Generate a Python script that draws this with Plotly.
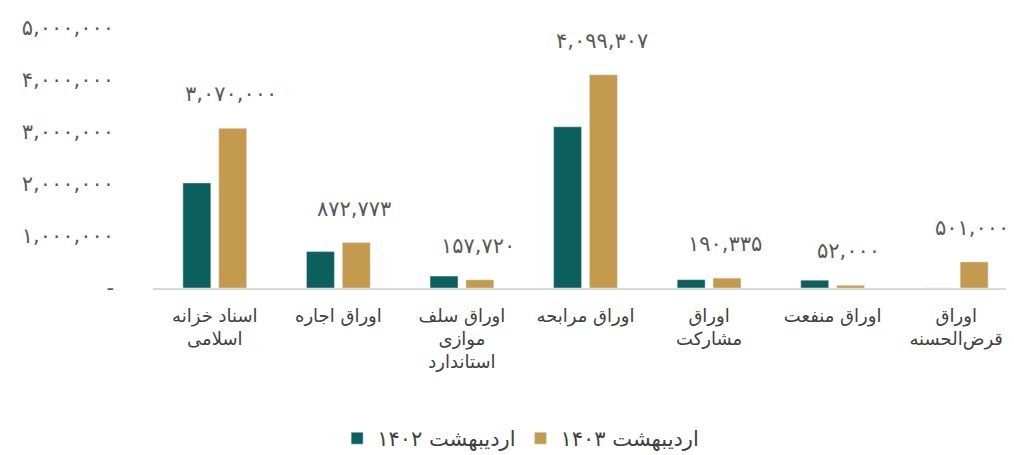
import plotly.graph_objects as go

categories = [
    "اسناد خزانه<br>اسلامی",
    "اوراق اجاره",
    "اوراق سلف<br>موازی<br>استاندارد",
    "اوراق مرابحه",
    "اوراق<br>مشارکت",
    "اوراق منفعت",
    "اوراق<br>قرض‌الحسنه",
]
values_1402 = [2020000, 700000, 230000, 3100000, 160000, 150000, 0]
values_1403 = [3070000, 872773, 157720, 4099307, 190335, 52000, 501000]
y_ticks = [0, 1000000, 2000000, 3000000, 4000000, 5000000]

series_names = ["اردیبهشت ۱۴۰۲", "اردیبهشت ۱۴۰۳"]


def fa(n):
    # persian digits with comma separators
    s = "{:,}".format(int(n))
    return s.translate(str.maketrans("0123456789", "۰۱۲۳۴۵۶۷۸۹"))


tick_text = ["-" if v == 0 else fa(v) for v in y_ticks]
font = "DejaVu Sans"

fig = go.Figure()
fig.add_trace(go.Bar(x=categories, y=values_1402, name=series_names[0],
                     marker_color="#0b5f5c"))
fig.add_trace(go.Bar(x=categories, y=values_1403, name=series_names[1],
                     marker_color="#c49b4e"))

# value labels over the 1403 bars
for c, v in zip(categories, values_1403):
    fig.add_annotation(x=c, y=v, text=fa(v), showarrow=False,
                       xshift=16, yshift=20, yanchor="bottom",
                       font=dict(size=21, color="#595959", family=font))

fig.update_layout(
    width=1014, height=455,
    margin=dict(l=145, r=4, t=20, b=169),
    plot_bgcolor="white", paper_bgcolor="white",
    barmode="group", bargap=0.42, bargroupgap=0.22,
    font=dict(family=font, color="#404040"),
    showlegend=True,
    legend=dict(orientation="h", x=0.425, xanchor="center", y=-0.5, yanchor="top",
                font=dict(size=21, color="#404040"), traceorder="normal",
                itemwidth=30),
)
fig.update_xaxes(showline=True, linecolor="#d9d9d9", linewidth=2,
                 tickfont=dict(size=18, color="#404040"), ticks="",
                 ticklabelstandoff=10)
fig.update_yaxes(range=[0, 5000000], tickvals=y_ticks, ticktext=tick_text,
                 showgrid=False, zeroline=False, ticklabelstandoff=38,
                 tickfont=dict(size=21, color="#595959"))

fig.write_html("out.html")
